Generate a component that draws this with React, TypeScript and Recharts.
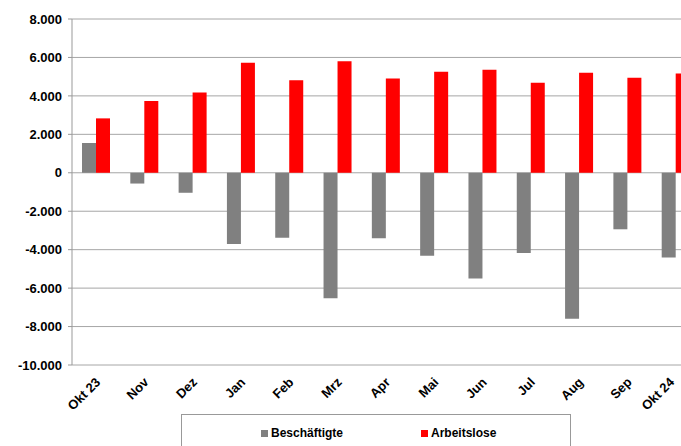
import React from 'react';
import { BarChart, Bar, XAxis, YAxis, CartesianGrid } from 'recharts';

// monthly change vs. previous year
const months = ['Okt 23', 'Nov', 'Dez', 'Jan', 'Feb', 'Mrz', 'Apr', 'Mai', 'Jun', 'Jul', 'Aug', 'Sep', 'Okt 24'];
const beschaeftigte = [1550, -560, -1040, -3700, -3380, -6530, -3400, -4320, -5500, -4170, -7590, -2940, -4410];
const arbeitslose = [2830, 3730, 4170, 5730, 4820, 5800, 4900, 5260, 5360, 4690, 5210, 4940, 5160];
const yTicks = [-10000, -8000, -6000, -4000, -2000, 0, 2000, 4000, 6000, 8000];

const GRAY = '#808080';
const RED = '#ff0000';
const FONT = '"Liberation Sans", Arial, sans-serif';

const formatDe = (v: number) => {
  const s = Math.abs(v).toString().replace(/\B(?=(\d{3})+(?!\d))/g, '.');
  return v < 0 ? '-' + s : s;
};

const chartData = months.map((m, i) => ({
  month: m,
  beschaeftigte: beschaeftigte[i],
  arbeitslose: arbeitslose[i],
}));

const MonthTick = (props: any) => {
  const { x, y, payload } = props;
  // keep the last label inside the visible area
  const tx = Math.min(x + 5, 675);
  const ty = y + 10;
  return (
    <text
      x={tx}
      y={ty}
      transform={`rotate(-45, ${tx}, ${ty})`}
      textAnchor="end"
      fontFamily={FONT}
      fontWeight="bold"
      fontSize={13}
      fill="#000"
    >
      {payload.value}
    </text>
  );
};

export default function App() {
  return (
    <div
      style={{
        position: 'absolute',
        left: 0,
        top: 0,
        width: 681,
        height: 446,
        overflow: 'hidden',
        background: '#fff',
        fontFamily: FONT,
      }}
    >
      <BarChart
        width={710}
        height={446}
        data={chartData}
        margin={{ top: 19, right: 10, bottom: 0, left: 0 }}
        barGap={0}
        barSize={14}
      >
        <CartesianGrid vertical={false} stroke="#a6a6a6" strokeWidth={1} />
        <XAxis
          dataKey="month"
          height={81}
          axisLine={false}
          tickLine={false}
          interval={0}
          tick={<MonthTick />}
        />
        <YAxis
          width={72}
          domain={[-10000, 8000]}
          ticks={yTicks}
          tickFormatter={formatDe}
          axisLine={{ stroke: '#999' }}
          tickLine={{ stroke: '#999' }}
          tickSize={4}
          tickMargin={6}
          tick={{ fill: '#000', fontSize: 13, fontWeight: 'bold', fontFamily: FONT }}
        />
        <Bar dataKey="beschaeftigte" fill={GRAY} isAnimationActive={false} />
        <Bar dataKey="arbeitslose" fill={RED} isAnimationActive={false} />
      </BarChart>
      <div
        style={{
          position: 'absolute',
          left: 181,
          top: 414,
          width: 388,
          height: 40,
          border: '1px solid #999',
          fontSize: 12,
          fontWeight: 'bold',
          color: '#000',
        }}
      >
        <div style={{ position: 'absolute', left: 79, top: 11, display: 'flex', alignItems: 'center' }}>
          <span style={{ width: 7, height: 7, background: GRAY, marginRight: 3, display: 'inline-block' }} />
          Beschäftigte
        </div>
        <div style={{ position: 'absolute', left: 239, top: 11, display: 'flex', alignItems: 'center' }}>
          <span style={{ width: 7, height: 7, background: RED, marginRight: 3, display: 'inline-block' }} />
          Arbeitslose
        </div>
      </div>
    </div>
  );
}
